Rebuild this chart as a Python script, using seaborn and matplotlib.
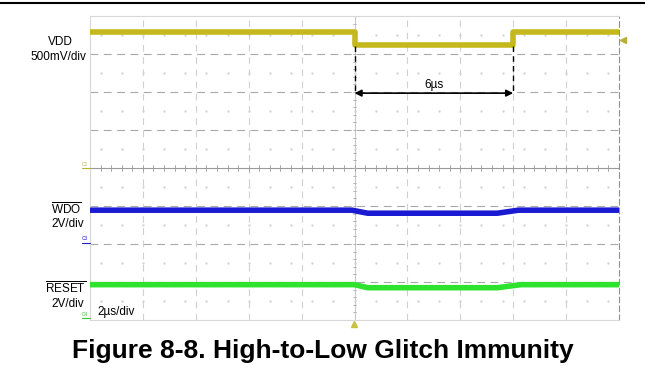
import matplotlib
matplotlib.use("Agg")
import matplotlib.pyplot as plt
import seaborn as sns
import pandas as pd
import numpy as np
from matplotlib.lines import Line2D

# time in us, levels in screen divisions (0 = bottom of screen, 8 = top)
vdd_t = [0, 10, 10, 16, 16, 20]
vdd_v = [7.58, 7.58, 7.24, 7.24, 7.58, 7.58]
wdo_t = [0, 9.9, 10.5, 15.4, 16.2, 20]
wdo_v = [2.89, 2.89, 2.81, 2.81, 2.89, 2.89]
rst_t = [0, 10.0, 10.5, 15.4, 16.3, 20]
rst_v = [0.93, 0.93, 0.85, 0.85, 0.93, 0.93]

glitch_start = 10
glitch_end = 16
glitch_label = "6µs"

sns.set_style("white")
plt.rcParams['font.family'] = ['Liberation Sans', 'DejaVu Sans']
plt.rcParams['mathtext.fontset'] = 'custom'
plt.rcParams['mathtext.rm'] = 'Liberation Sans'
plt.rcParams['text.color'] = 'black'

W, H = 645, 370
fig = plt.figure(figsize=(W / 100, H / 100), dpi=100)

def fx(px):
    return px / W

def fy(py):
    return 1 - py / H

ax = fig.add_axes([fx(90), fy(320), fx(619) - fx(90), fy(16) - fy(320)])
ax.set_xlim(0, 20)
ax.set_ylim(0, 8)

# scope graticule
for yv in range(1, 8):
    if yv == 4:
        continue
    ax.axhline(yv, color="#a8a8a8", lw=0.8, ls=(0, (7, 5)), zorder=1)
for xv in range(2, 20, 2):
    if xv == 10:
        continue
    ax.axvline(xv, color="#d0d0d0", lw=0.8, ls=(0, (6, 5)), zorder=1)
ax.axhline(4, color="#9a9a9a", lw=0.8, zorder=1)
ax.axvline(10, color="#c8c8c8", lw=0.8, zorder=1)
# minor ticks on center cross
for xm in np.arange(0, 20.01, 0.4):
    ax.plot([xm, xm], [3.93, 4.07], color="#9a9a9a", lw=0.6, zorder=1)
for ym in np.arange(0, 8.01, 0.2):
    ax.plot([9.93, 10.07], [ym, ym], color="#b0b0b0", lw=0.6, zorder=1)
# dotted rows at half divisions
for yv in np.arange(0.5, 8, 1):
    ax.scatter(np.arange(0.4, 20, 0.8), [yv] * 25, s=0.5, color="#d4d4d4", zorder=1)

traces = pd.concat([
    pd.DataFrame({"t": vdd_t, "v": vdd_v, "ch": "VDD"}),
    pd.DataFrame({"t": wdo_t, "v": wdo_v, "ch": "WDO"}),
    pd.DataFrame({"t": rst_t, "v": rst_v, "ch": "RESET"}),
])
palette = {"VDD": "#c4b81c", "WDO": "#1a1ad2", "RESET": "#2ee32e"}
n_before = len(ax.lines)
sns.lineplot(data=traces, x="t", y="v", hue="ch", palette=palette,
             estimator=None, sort=False, lw=4.0, legend=False, ax=ax)
for ln in ax.lines[n_before:]:
    ln.set_zorder(5)

# glitch markers
ax.plot([glitch_start, glitch_start], [7.2, 5.97], color="black", lw=1, ls=(0, (4, 3)), zorder=6)
ax.plot([glitch_end, glitch_end], [7.2, 5.97], color="black", lw=1, ls=(0, (4, 3)), zorder=6)
ax.annotate("", xy=(glitch_start, 5.97), xytext=(glitch_end, 5.97),
            arrowprops=dict(arrowstyle="<|-|>", color="black", lw=1.2,
                            mutation_scale=10, shrinkA=0, shrinkB=0), zorder=6)
ax.text((glitch_start + glitch_end) / 2, 6.02, glitch_label, ha="center", va="bottom", fontsize=8.5)

ax.set_xticks([])
ax.set_yticks([])
ax.set_xlabel("")
ax.set_ylabel("")
for s in ax.spines.values():
    s.set_color("#d8d8d8")
    s.set_linewidth(0.8)
ax.spines["right"].set_color("#909090")
ax.spines["right"].set_linestyle((0, (5, 3)))

# labels outside the screen
fig.text(fx(60), fy(42), "VDD", ha="center", va="center", fontsize=8.5)
fig.text(fx(86), fy(57), "500mV/div", ha="right", va="center", fontsize=8.5)
fig.text(fx(66), fy(209), r"$\overline{\mathrm{WDO}}$", ha="center", va="center", fontsize=8.5)
fig.text(fx(84), fy(224), "2V/div", ha="right", va="center", fontsize=8.5)
fig.text(fx(66), fy(288), r"$\overline{\mathrm{RESET}}$", ha="center", va="center", fontsize=8.5)
fig.text(fx(84), fy(304), "2V/div", ha="right", va="center", fontsize=8.5)
fig.text(fx(97), fy(312), "2µs/div", ha="left", va="center", fontsize=8.5)

fig.text(fx(82), fy(164), "C1", ha="left", va="center", fontsize=3.5, color="#b8b030")
fig.text(fx(82), fy(239), "C3", ha="left", va="center", fontsize=3.5, color="#2020c0")
fig.text(fx(82), fy(314), "C4", ha="left", va="center", fontsize=3.5, color="#40c040")
fig.add_artist(Line2D([fx(82), fx(90)], [fy(168), fy(168)], color="#b8b030", lw=0.8))
fig.add_artist(Line2D([fx(82), fx(90)], [fy(243), fy(243)], color="#2020c0", lw=0.8))
fig.add_artist(Line2D([fx(82), fx(90)], [fy(318), fy(318)], color="#40c040", lw=0.8))
fig.add_artist(Line2D([fx(623)], [fy(40)], marker="<", ms=4, color="#b8b030", lw=0))
fig.add_artist(Line2D([fx(354)], [fy(324)], marker="^", ms=4, color="#c8c040", lw=0))

# top rule and caption
fig.add_artist(Line2D([0, 1], [fy(3), fy(3)], color="black", lw=1.5))
fig.text(0.5, fy(351), "Figure 8-8. High-to-Low Glitch Immunity", ha="center", va="center",
         fontsize=19, fontweight="bold", color="black")

fig.savefig("out.png", dpi=100, facecolor="white")
